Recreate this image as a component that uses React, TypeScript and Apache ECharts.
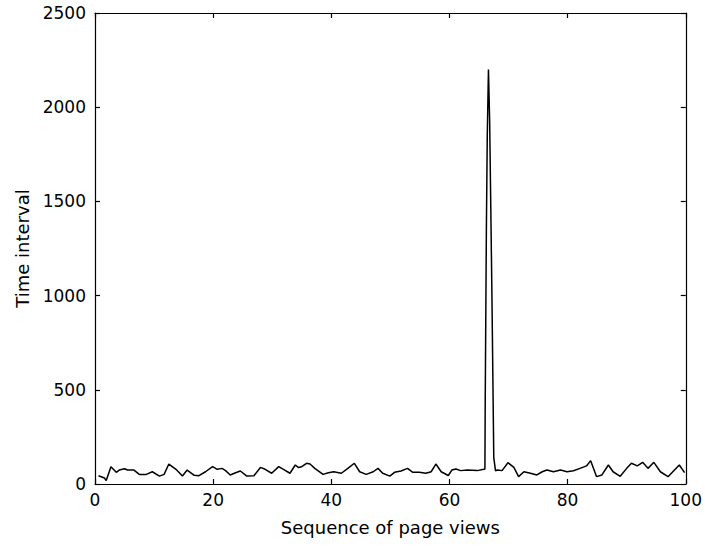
import React, { useEffect, useRef } from "react";
import * as echarts from "echarts";

const xValues: number[] = [
  0.6, 1.6, 1.9, 2.7, 3.6, 4.1, 5.0, 5.5, 6.6, 7.5, 8.6, 9.7, 10.9, 11.7, 12.5, 13.7, 14.8, 15.6, 16.8, 17.6,
  18.7, 19.9, 20.7, 21.5, 22.1, 22.9, 23.8, 24.6, 25.7, 26.9, 28.0, 28.8, 29.9, 31.1, 31.9, 33.0, 33.9, 34.4,
  35.0, 35.8, 36.4, 37.2, 38.6, 39.5, 40.4, 41.7, 42.8, 43.9, 44.8, 45.9, 47.1, 47.9, 48.7, 49.9, 50.7, 51.8,
  52.9, 53.8, 54.9, 56.0, 56.9, 57.7, 58.6, 59.8, 60.4, 61.1, 61.9, 63.0, 64.7, 65.8,
  66.0, 66.05, 66.25, 66.4, 66.6, 66.8, 67.0, 67.2, 67.5, 67.8,
  68.1, 68.9, 69.9, 70.9, 71.7, 72.6, 73.7, 74.8, 75.7, 76.5, 77.6, 78.8, 79.9, 81.0, 82.1, 83.2, 83.9, 84.9,
  85.8, 86.9, 87.7, 88.9, 90.0, 90.8, 91.8, 92.7, 93.6, 94.6, 95.7, 97.0, 98.9, 99.8,
];

const intervals: number[] = [
  44, 32, 18, 92, 62, 74, 81, 74, 74, 51, 50, 65, 42, 51, 106, 78, 42, 74, 46, 44,
  65, 92, 78, 83, 71, 48, 60, 69, 42, 44, 88, 78, 57, 92, 78, 57, 101, 88,
  92, 110, 106, 83, 51, 60, 65, 57, 83, 110, 65, 51, 65, 83, 57, 42, 62, 69,
  83, 62, 62, 57, 65, 106, 65, 45, 74, 80, 71, 74, 71, 78,
  80, 420, 1360, 1850, 2200, 1930, 1460, 970, 140, 70,
  74, 71, 113, 88, 39, 65, 57, 48, 65, 74, 65, 74, 65, 70, 83, 96, 124, 39,
  48, 101, 65, 41, 83, 110, 96, 115, 83, 115, 65, 39, 101, 60,
];

const xTicks = { min: 0, max: 100, interval: 20 };
const yTicks = { min: 0, max: 2500, interval: 500 };

const FONT = "DejaVu Sans";

export default function App() {
  const ref = useRef<HTMLDivElement>(null);
  useEffect(() => {
    if (!ref.current) return;
    const chart = echarts.init(ref.current, undefined, { renderer: "svg" });
    const data = xValues.map((x, i) => [x, intervals[i]]);
    const axisLine = { show: true, onZero: false, lineStyle: { color: "#000", width: 1.2 } };
    const axisTick = { show: true, inside: true, length: 5, lineStyle: { color: "#000", width: 1.2 } };
    const label = { color: "#000", fontFamily: FONT, fontSize: 17 };
    const plain = (v: number) => String(v);
    chart.setOption({
      animation: false,
      backgroundColor: "#fff",
      grid: { left: 95, right: 16, top: 13, bottom: 62, containLabel: false },
      xAxis: [
        {
          type: "value",
          position: "bottom",
          ...xTicks,
          axisLine,
          axisTick,
          splitLine: { show: false },
          axisLabel: { ...label, margin: 7, formatter: plain },
          name: "Sequence of page views",
          nameLocation: "middle",
          nameGap: 34,
          nameTextStyle: { ...label, fontSize: 18 },
        },
        {
          type: "value",
          position: "top",
          ...xTicks,
          axisLine,
          axisTick,
          splitLine: { show: false },
          axisLabel: { show: false },
        },
      ],
      yAxis: [
        {
          type: "value",
          position: "left",
          ...yTicks,
          axisLine,
          axisTick,
          splitLine: { show: false },
          axisLabel: { ...label, margin: 9, formatter: plain },
          name: "Time interval",
          nameLocation: "middle",
          nameGap: 64,
          nameTextStyle: { ...label, fontSize: 18 },
        },
        {
          type: "value",
          position: "right",
          ...yTicks,
          axisLine,
          axisTick,
          splitLine: { show: false },
          axisLabel: { show: false },
        },
      ],
      series: [
        {
          type: "line",
          data,
          xAxisIndex: 0,
          yAxisIndex: 0,
          symbol: "none",
          lineStyle: { color: "#000", width: 1.5 },
        },
      ],
    });
    return () => chart.dispose();
  }, []);
  return (
    <div
      ref={ref}
      style={{ position: "fixed", left: 0, top: 0, width: 705, height: 546, background: "#fff" }}
    />
  );
}
